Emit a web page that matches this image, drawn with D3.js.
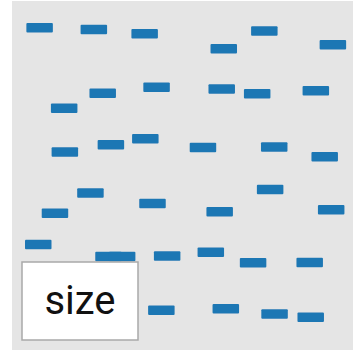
<!DOCTYPE html>
<html>
<head>
<meta charset="utf-8">
<script src="https://cdn.jsdelivr.net/npm/d3@7"></script>
<style>
  html, body { margin: 0; padding: 0; background: #ffffff; }
  svg { display: block; }
</style>
</head>
<body>
<script>
const xValues = [8.1, 24.0, 38.9, 26.6, 42.4, 15.3, 15.5, 29.0, 39.1, 74.0, 62.1, 94.1,
  61.5, 71.9, 89.1, 56.0, 76.9, 91.7, 23.0, 12.6, 41.2, 7.7, 28.3, 32.3, 45.5, 43.8,
  75.7, 60.9, 93.6, 58.3, 70.7, 87.3, 62.7, 77.0, 87.6];
const yValues = [92.3, 91.8, 90.6, 73.6, 75.3, 69.3, 56.7, 58.8, 60.5, 91.4, 86.3, 87.5,
  74.8, 73.4, 74.3, 58.0, 58.2, 55.4, 45.0, 39.2, 42.0, 30.2, 26.8, 26.8, 26.9, 11.4,
  46.0, 39.6, 40.2, 28.0, 25.0, 25.1, 11.8, 10.3, 9.4];
const legendTitle = "size";

const W = 353, H = 354;
const svg = d3.select("body").append("svg").attr("width", W).attr("height", H);

const defs = svg.append("defs");
defs.append("filter").attr("id", "soft").attr("x", "-20%").attr("y", "-50%")
  .attr("width", "140%").attr("height", "200%")
  .append("feGaussianBlur").attr("stdDeviation", 0.55);

const x = d3.scaleLinear().domain([0, 100]).range([12, 353]);
const y = d3.scaleLinear().domain([0, 100]).range([350, 1]);

svg.append("rect").attr("x", 12).attr("y", 1).attr("width", 341).attr("height", 349)
  .attr("fill", "#e5e5e5");

const mw = 26.5, mh = 9.5;
svg.append("g").attr("filter", "url(#soft)")
  .selectAll("rect").data(xValues.map((v, i) => [v, yValues[i]])).join("rect")
  .attr("x", d => x(d[0]) - mw / 2)
  .attr("y", d => y(d[1]) - mh / 2)
  .attr("width", mw).attr("height", mh)
  .attr("rx", 1)
  .attr("fill", "#1f77b4");

const lg = svg.append("g");
lg.append("rect").attr("x", 22).attr("y", 262).attr("width", 116).attr("height", 78)
  .attr("fill", "#ffffff").attr("stroke", "#a9a9a9").attr("stroke-width", 1.5);
lg.append("text").attr("x", 80).attr("y", 314).attr("text-anchor", "middle")
  .attr("font-family", "Roboto").attr("font-size", 40).attr("fill", "#111111")
  .text(legendTitle);
</script>
</body>
</html>
